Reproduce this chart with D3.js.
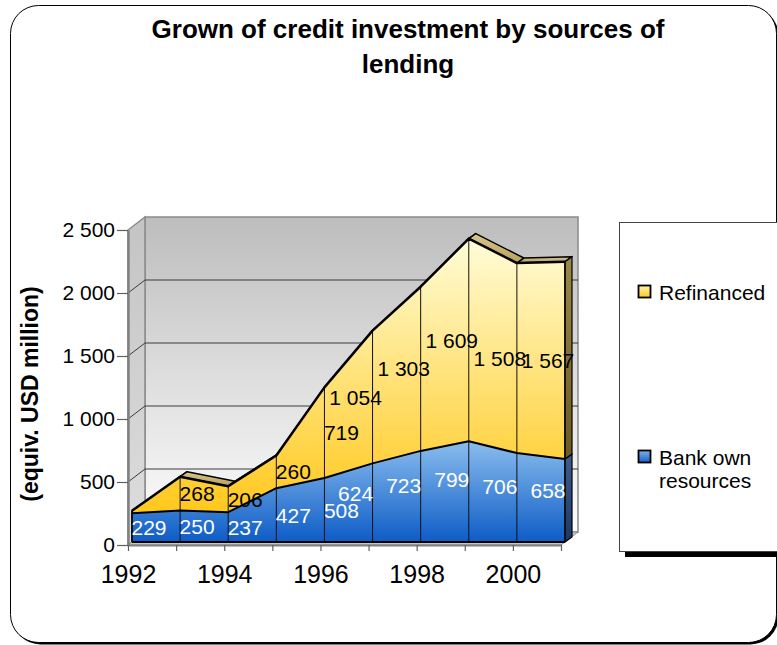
<!DOCTYPE html>
<html>
<head>
<meta charset="utf-8">
<script src="https://cdn.jsdelivr.net/npm/d3@7/dist/d3.min.js"></script>
<style>
  html, body { margin: 0; padding: 0; background: #fff; }
  svg { display: block; font-family: "Liberation Sans", Arial, sans-serif; }
</style>
</head>
<body>
<script>
// ---------- data ----------
const years = [1992, 1993, 1994, 1995, 1996, 1997, 1998, 1999, 2000, 2001];
const bankOwn = [229, 250, 237, 427, 508, 624, 723, 799, 706, 658];
const refinanced = [19, 268, 206, 260, 719, 1054, 1303, 1609, 1508, 1567];
const seriesNames = ["Refinanced", "Bank own resources"];
const yTickValues = [0, 500, 1000, 1500, 2000, 2500];
const yTickLabels = ["0", "500", "1 000", "1 500", "2 000", "2 500"];
const xTickLabels = ["1992", "1994", "1996", "1998", "2000"];
const titleLines = ["Grown of credit investment by sources of", "lending"];
const yTitle = "(equiv. USD million)";

// ---------- setup ----------
const W = 777, H = 645;
const svg = d3.select("body").append("svg").attr("width", W).attr("height", H);
const defs = svg.append("defs");
function vGrad(id, stops) {
  const g = defs.append("linearGradient").attr("id", id)
    .attr("x1", 0).attr("y1", 0).attr("x2", 0).attr("y2", 1);
  stops.forEach(([o, c]) => g.append("stop").attr("offset", o).attr("stop-color", c));
}
vGrad("wallGrad", [[0, "#bdbdbd"], [1, "#fdfdfd"]]);
vGrad("sideGrad", [[0, "#c4c4c4"], [1, "#dedede"]]);
vGrad("blueGrad", [[0, "#8abdee"], [1, "#0d5cc6"]]);
vGrad("yellowGrad", [[0, "#fffcd8"], [1, "#ffc81c"]]);
vGrad("yellowTop", [[0, "#d6c690"], [1, "#b9a058"]]);
vGrad("yellowEnd", [[0, "#9a8848"], [1, "#6c5a1e"]]);
vGrad("blueEnd", [[0, "#3e5e8e"], [1, "#1c3766"]]);
vGrad("legY", [[0, "#fff4b0"], [1, "#ffc820"]]);
vGrad("legB", [[0, "#7fb4ea"], [1, "#1560c8"]]);

const fmt = d3.formatLocale({ decimal: ".", thousands: " ", grouping: [3], currency: ["", ""] }).format(",");

// outer frame with shadow
svg.append("rect").attr("x", 12.5).attr("y", 7.5).attr("width", 766).attr("height", 637)
  .attr("rx", 28).attr("fill", "#000");
svg.append("rect").attr("x", 10.5).attr("y", 5.5).attr("width", 766).attr("height", 637)
  .attr("rx", 28).attr("fill", "#fff").attr("stroke", "#000").attr("stroke-width", 1);

// title
svg.append("text").attr("x", 408).attr("text-anchor", "middle")
  .attr("font-size", 26).attr("font-weight", "bold").attr("fill", "#000")
  .selectAll("tspan").data(titleLines).join("tspan")
  .attr("x", 408).attr("y", (d, i) => 38 + i * 35).text(d => d);

// scales
const x = d3.scaleLinear().domain([years[0], years[years.length - 1]]).range([128, 561]);
const y = d3.scaleLinear().domain([0, 2500]).range([545, 230]);
const FO = [4, -3];   // front face offset
const DP = [7, -5];   // series depth
const WL = [17, -13]; // back wall offset

const x0 = x(years[0]), x1 = x(years[years.length - 1]);

// back wall
svg.append("rect").attr("x", x0 + WL[0]).attr("y", y(2500) + WL[1])
  .attr("width", x1 - x0).attr("height", y(0) - y(2500))
  .attr("fill", "url(#wallGrad)").attr("stroke", "#8a8a8a").attr("stroke-width", 1.5);
// side wall
svg.append("polygon")
  .attr("points", [[x0, y(0)], [x0, y(2500)], [x0 + WL[0], y(2500) + WL[1]], [x0 + WL[0], y(0) + WL[1]]].join(" "))
  .attr("fill", "url(#sideGrad)").attr("stroke", "#8a8a8a").attr("stroke-width", 1.5);
// floor
svg.append("polygon")
  .attr("points", [[x0, y(0)], [x0 + WL[0], y(0) + WL[1]], [x1 + WL[0], y(0) + WL[1]], [x1, y(0)]].join(" "))
  .attr("fill", "#c8c8c8").attr("stroke", "#8a8a8a");

// gridlines
const gridV = yTickValues.filter(v => v > 0 && v < 2500);
svg.append("g").selectAll("line.g").data(gridV).join("line")
  .attr("x1", x0 + WL[0]).attr("x2", x1 + WL[0])
  .attr("y1", v => y(v) + WL[1]).attr("y2", v => y(v) + WL[1])
  .attr("stroke", "#3a3a3a").attr("stroke-width", 1);
svg.append("g").selectAll("line.d").data(gridV).join("line")
  .attr("x1", x0).attr("x2", x0 + WL[0])
  .attr("y1", v => y(v)).attr("y2", v => y(v) + WL[1])
  .attr("stroke", "#3a3a3a").attr("stroke-width", 1);

// axes
const yAxis = d3.axisLeft(y).tickValues(yTickValues).tickSize(11).tickSizeOuter(0).tickPadding(2)
  .tickFormat((d, i) => yTickLabels[i]);
const gy = svg.append("g").attr("transform", `translate(${x0},0)`).call(yAxis);
gy.select(".domain").attr("stroke", "#808080").attr("stroke-width", 2.5);
gy.selectAll(".tick line").attr("stroke", "#606060").attr("stroke-width", 1.2);
gy.selectAll("text").attr("font-size", 21).attr("fill", "#000")
  .attr("font-family", "'Liberation Sans', Arial, sans-serif");

const xAxis = d3.axisBottom(x).tickValues(years).tickSize(6).tickSizeOuter(0).tickPadding(14)
  .tickFormat(d => xTickLabels.includes(String(d)) ? String(d) : "");
const gx = svg.append("g").attr("transform", `translate(0,${y(0)})`).call(xAxis);
gx.select(".domain").attr("stroke", "#808080").attr("stroke-width", 2);
gx.selectAll(".tick line").attr("stroke", "#606060").attr("stroke-width", 1.2);
gx.selectAll("text").attr("font-size", 25).attr("fill", "#000")
  .attr("font-family", "'Liberation Sans', Arial, sans-serif");

// y title
svg.append("text").attr("transform", "translate(38,394) rotate(-90)")
  .attr("text-anchor", "middle").attr("font-size", 23).attr("font-weight", "bold")
  .text(yTitle);

// ---------- series ----------
const rows = years.map((yr, i) => ({ year: yr, bank: bankOwn[i], ref: refinanced[i] }));
const stacked = d3.stack().keys(["bank", "ref"])(rows);
const fx = d => x(d.data.year) + FO[0];
const fy = v => y(v) + FO[1];
const n = years.length;

// top face of refinanced (visible where slope descends)
const topPts = stacked[1].map(d => [fx(d), fy(d[1])]);
const topFaces = d3.pairs(topPts);
svg.append("g").selectAll("polygon").data(topFaces).join("polygon")
  .attr("points", ([a, b]) => [a, b, [b[0] + DP[0], b[1] + DP[1]], [a[0] + DP[0], a[1] + DP[1]]].join(" "))
  .attr("fill", "url(#yellowTop)").attr("stroke", "#000").attr("stroke-width", 1.5)
  .attr("stroke-linejoin", "round");

// right end faces
const last = n - 1;
const endFace = (v0, v1) => {
  const xr = fx(stacked[0][last]);
  return [[xr, fy(v1)], [xr + DP[0], fy(v1) + DP[1]], [xr + DP[0], fy(v0) + DP[1]], [xr, fy(v0)]].join(" ");
};
svg.append("polygon").attr("points", endFace(stacked[0][last][0], stacked[0][last][1]))
  .attr("fill", "url(#blueEnd)").attr("stroke", "#000").attr("stroke-width", 1.2);
svg.append("polygon").attr("points", endFace(stacked[1][last][0], stacked[1][last][1]))
  .attr("fill", "url(#yellowEnd)").attr("stroke", "#000").attr("stroke-width", 1.2);

// front areas
const area = d3.area().x(fx).y0(d => fy(d[0])).y1(d => fy(d[1]));
svg.append("path").datum(stacked[0]).attr("d", area).attr("fill", "url(#blueGrad)");
svg.append("path").datum(stacked[1]).attr("d", area).attr("fill", "url(#yellowGrad)");

// vertical separators
svg.append("g").selectAll("line").data(stacked[1]).join("line")
  .attr("x1", fx).attr("x2", fx).attr("y1", d => fy(d[1])).attr("y2", fy(0))
  .attr("stroke", "#111").attr("stroke-width", (d, i) => (i === 0 || i === last) ? 2 : 1);

// outlines
svg.append("path").datum(stacked[0]).attr("d", d3.line().x(fx).y(d => fy(d[1])))
  .attr("fill", "none").attr("stroke", "#000").attr("stroke-width", 2).attr("stroke-linejoin", "round");
svg.append("path").datum(stacked[1]).attr("d", d3.line().x(fx).y(d => fy(d[1])))
  .attr("fill", "none").attr("stroke", "#000").attr("stroke-width", 2.5).attr("stroke-linejoin", "round");
svg.append("path").datum(stacked[0]).attr("d", d3.line().x(fx).y(() => fy(0)))
  .attr("fill", "none").attr("stroke", "#000").attr("stroke-width", 2);

// data labels: left half shifted right, right half shifted left (as in the source)
const labelX = (d, i) => fx(d) + (i < n / 2 ? 17 : -17);
const blueFrac = i => (i < n / 2 ? 0.5 : 0.62);
const labelG = svg.append("g").attr("font-size", 21).attr("text-anchor", "middle");
labelG.selectAll("text.b").data(stacked[0]).join("text")
  .attr("x", labelX).attr("y", (d, i) => fy(d[0] + (d[1] - d[0]) * blueFrac(i)))
  .attr("dy", "0.36em").attr("fill", "#fff").text(d => fmt(d.data.bank));
labelG.selectAll("text.r").data(stacked[1].filter(d => d.data.ref >= 50)).join("text")
  .attr("x", d => labelX(d, years.indexOf(d.data.year))).attr("y", d => fy((d[0] + d[1]) / 2))
  .attr("dy", "0.36em").attr("fill", "#000").text(d => fmt(d.data.ref));

// ---------- legend ----------
svg.append("rect").attr("x", 625).attr("y", 552).attr("width", 160).attr("height", 5).attr("fill", "#000");
svg.append("rect").attr("x", 619.5).attr("y", 222.5).attr("width", 170).attr("height", 329)
  .attr("fill", "#fff").attr("stroke", "#444").attr("stroke-width", 1);
const legItems = [
  { name: seriesNames[0], lines: ["Refinanced"], fill: "url(#legY)", y: 285 },
  { name: seriesNames[1], lines: ["Bank own", "resources"], fill: "url(#legB)", y: 450 }
];
const lg = svg.append("g").selectAll("g").data(legItems).join("g");
lg.append("rect").attr("x", 638.5).attr("y", d => d.y + 0.5).attr("width", 12).attr("height", 12)
  .attr("fill", d => d.fill).attr("stroke", "#000").attr("stroke-width", 1.8);
lg.append("text").attr("font-size", 21).attr("fill", "#000")
  .selectAll("tspan").data(d => d.lines.map((t, i) => ({ t, i, y: d.y }))).join("tspan")
  .attr("x", 659).attr("y", d => d.y + 14.5 + d.i * 23.5).text(d => d.t);
</script>
</body>
</html>
